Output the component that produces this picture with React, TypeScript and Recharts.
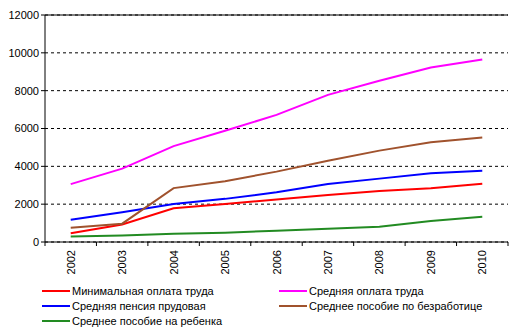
import { LineChart, Line, XAxis, YAxis, CartesianGrid, ReferenceLine } from 'recharts';

const years = ['2002', '2003', '2004', '2005', '2006', '2007', '2008', '2009', '2010'];
const minWage = [460, 930, 1780, 2010, 2250, 2490, 2700, 2840, 3080];
const avgWage = [3060, 3880, 5070, 5880, 6720, 7780, 8520, 9220, 9650];
const pension = [1180, 1570, 2010, 2280, 2630, 3060, 3350, 3630, 3770];
const unemployment = [750, 970, 2850, 3210, 3720, 4300, 4830, 5270, 5520];
const childBenefit = [290, 350, 440, 490, 600, 700, 810, 1110, 1340];
const yTicks = [0, 2000, 4000, 6000, 8000, 10000, 12000];

const series = [
  { key: 'minWage', name: 'Минимальная оплата труда', color: '#ff0000', values: minWage },
  { key: 'avgWage', name: 'Средняя оплата труда', color: '#ff00ff', values: avgWage },
  { key: 'pension', name: 'Средняя пенсия прудовая', color: '#0000ff', values: pension },
  { key: 'unemployment', name: 'Среднее пособие по безработице', color: '#a0522d', values: unemployment },
  { key: 'childBenefit', name: 'Среднее пособие на ребенка', color: '#228b22', values: childBenefit },
];

const data = years.map((year, i) => {
  const row: any = { year };
  series.forEach((s) => (row[s.key] = s.values[i]));
  return row;
});

const font = 'Liberation Sans, Arial, sans-serif';

function YearTick(props: any) {
  const { x, y, payload, index, width } = props;
  const half = width / years.length / 2;
  return (
    <g>
      <line x1={x - half} y1={y - 8} x2={x - half} y2={y - 4} stroke="#000" />
      {index === years.length - 1 && (
        <line x1={x + half} y1={y - 8} x2={x + half} y2={y - 4} stroke="#000" />
      )}
      <text
        x={x + 4}
        y={y}
        transform={`rotate(-90 ${x + 4} ${y})`}
        textAnchor="end"
        fontSize={11}
        fontFamily={font}
        fill="#000"
      >
        {payload.value}
      </text>
    </g>
  );
}

function LegendBox() {
  return (
    <div style={{ position: 'absolute', left: 0, top: 283, width: 524, height: 48, fontFamily: font, fontSize: 11, color: '#000' }}>
      {series.map((s, i) => (
        <div
          key={s.key}
          style={{
            position: 'absolute',
            left: i % 2 === 0 ? 42 : 279,
            top: Math.floor(i / 2) * 15,
            display: 'flex',
            alignItems: 'center',
            height: 15,
            whiteSpace: 'nowrap',
          }}
        >
          <span style={{ display: 'inline-block', width: 28, height: 2, background: s.color, marginRight: 2 }} />
          {s.name}
        </div>
      ))}
    </div>
  );
}

export default function App() {
  return (
    <div style={{ position: 'absolute', left: 0, top: 0, width: 524, height: 333, background: '#fff' }}>
      <LineChart width={524} height={333} data={data} margin={{ top: 15, right: 16, left: 5, bottom: 51 }}>
        <CartesianGrid vertical={false} stroke="#000" strokeDasharray="3 3" />
        <XAxis
          dataKey="year"
          scale="band"
          interval={0}
          tickLine={false}
          axisLine={{ stroke: '#000' }}
          tick={<YearTick />}
          height={40}
        />
        <YAxis
          domain={[0, 12000]}
          ticks={yTicks}
          width={40}
          tickSize={4}
          axisLine={{ stroke: '#000' }}
          tickLine={{ stroke: '#000' }}
          tick={{ fontSize: 11, fontFamily: font, fill: '#000' }}
          interval={0}
        />
        <YAxis yAxisId="right" orientation="right" width={0} tick={false} axisLine={{ stroke: '#000' }} />
        <ReferenceLine y={12000} stroke="#000" strokeDasharray="" />
        {series.map((s) => (
          <Line
            key={s.key}
            type="linear"
            dataKey={s.key}
            name={s.name}
            stroke={s.color}
            strokeWidth={2}
            dot={false}
            isAnimationActive={false}
          />
        ))}
      </LineChart>
      <LegendBox />
    </div>
  );
}
